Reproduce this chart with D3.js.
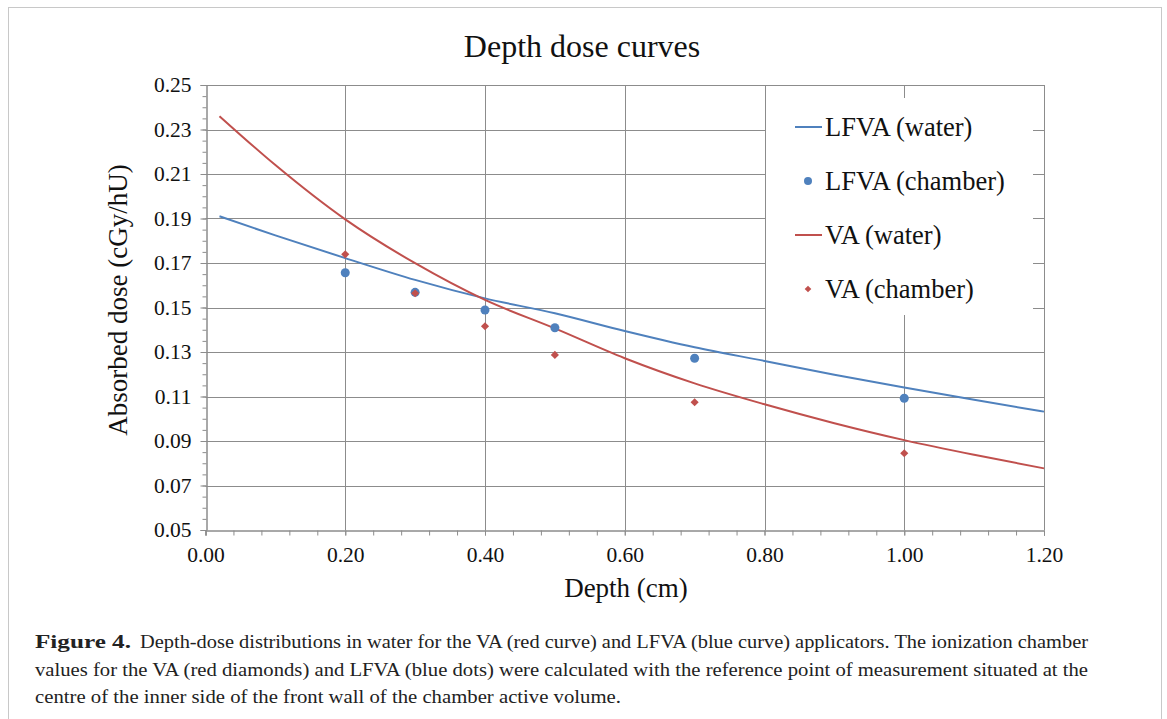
<!DOCTYPE html>
<html>
<head>
<meta charset="utf-8">
<script src="https://cdn.jsdelivr.net/npm/d3@7"></script>
<style>
body { margin: 0; background: #fff; }
svg { display: block; }
</style>
</head>
<body>
<div id="chart"></div>
<script>
// depth (cm) grid for the water curves
const curveDepth = [0.02, 0.1, 0.2, 0.3, 0.4, 0.5, 0.6, 0.7, 0.8, 0.9, 1.0, 1.1, 1.2];
const lfvaWater = [0.191, 0.1824, 0.1722, 0.1624, 0.1541, 0.1474, 0.1394, 0.1321, 0.1260, 0.1198, 0.1140, 0.1085, 0.1032];
const vaWater = [0.236, 0.214, 0.1896, 0.1699, 0.1534, 0.1406, 0.1272, 0.1159, 0.1065, 0.0980, 0.0904, 0.0838, 0.0777];

// chamber measurements
const chamberDepth = [0.2, 0.3, 0.4, 0.5, 0.7, 1.0];
const lfvaChamber = [0.1656, 0.1568, 0.1489, 0.1409, 0.1272, 0.1092];
const vaChamber = [0.1739, 0.1564, 0.1416, 0.1287, 0.1074, 0.0845];

const xTicks = [0, 0.2, 0.4, 0.6, 0.8, 1.0, 1.2];
const yTicks = [0.05, 0.07, 0.09, 0.11, 0.13, 0.15, 0.17, 0.19, 0.21, 0.23, 0.25];

const legendLabels = ["LFVA (water)", "LFVA (chamber)", "VA (water)", "VA (chamber)"];

const captionLines = [
	"Depth-dose distributions in water for the VA (red curve) and LFVA (blue curve) applicators. The ionization chamber",
	"values for the VA (red diamonds) and LFVA (blue dots) were calculated with the reference point of measurement situated at the",
	"centre of the inner side of the front wall of the chamber active volume."
];

const W = 1167, H = 719;
const blue = "#4F81BD", red = "#C0504D", grid = "#8c8c8c";
const serif = "'Liberation Serif', 'Times New Roman', serif";

const svg = d3.select("#chart").append("svg")
	.attr("width", W)
	.attr("height", H);

// outer frame
svg.append("rect")
	.attr("x", 8.5).attr("y", 7.5)
	.attr("width", 1153).attr("height", 740)
	.attr("fill", "none")
	.attr("stroke", "#c8c8c8");

const x = d3.scaleLinear().domain([0, 1.2]).range([205.5, 1044]);
const y = d3.scaleLinear().domain([0.05, 0.25]).range([530, 85]);

//gridlines
svg.append("g").selectAll("line")
	.data(yTicks.slice(1))
	.enter().append("line")
	.attr("x1", x(0)).attr("x2", x(1.2))
	.attr("y1", d => Math.round(y(d)) + 0.5).attr("y2", d => Math.round(y(d)) + 0.5)
	.attr("stroke", grid);

svg.append("g").selectAll("line")
	.data(xTicks.slice(1))
	.enter().append("line")
	.attr("x1", d => Math.round(x(d)) + 0.5).attr("x2", d => Math.round(x(d)) + 0.5)
	.attr("y1", y(0.05)).attr("y2", y(0.25))
	.attr("stroke", grid);

// y axis
const yMinor = d3.range(0.05, 0.2501, 0.005);
svg.append("g")
	.attr("transform", "translate(" + (Math.round(x(0)) + 0.5) + ",0)")
	.call(d3.axisLeft(y).tickValues(yMinor).tickSize(4).tickFormat(""))
	.call(g => g.selectAll("line,path").attr("stroke", grid));

svg.append("g")
	.attr("transform", "translate(" + (Math.round(x(0)) + 0.5) + ",0)")
	.call(d3.axisLeft(y).tickValues(yTicks).tickSize(6).tickPadding(9).tickFormat(d3.format(".2f")))
	.call(g => g.selectAll("line,path").attr("stroke", grid))
	.call(g => g.selectAll("text").attr("font-family", serif).attr("font-size", 21.5).attr("fill", "#111"));

// x axis
const xMinor = d3.range(0, 1.2001, 0.04);
svg.append("g")
	.attr("transform", "translate(0," + (Math.round(y(0.05)) + 0.5) + ")")
	.call(d3.axisBottom(x).tickValues(xMinor).tickSize(5).tickFormat(""))
	.call(g => g.selectAll("line,path").attr("stroke", grid));

svg.append("g")
	.attr("transform", "translate(0," + (Math.round(y(0.05)) + 0.5) + ")")
	.call(d3.axisBottom(x).tickValues(xTicks).tickSize(5).tickPadding(11).tickFormat(d3.format(".2f")))
	.call(g => g.selectAll("line,path").attr("stroke", grid))
	.call(g => g.selectAll("text").attr("font-family", serif).attr("font-size", 21.5).attr("fill", "#111"));

// legend background hides the grid behind it
svg.append("rect")
	.attr("x", 766).attr("y", 98)
	.attr("width", 267).attr("height", 217)
	.attr("fill", "#fff");

// curves
const line = d3.line()
	.x(d => x(d[0]))
	.y(d => y(d[1]))
	.curve(d3.curveMonotoneX);

[[lfvaWater, blue], [vaWater, red]].forEach(([vals, col]) => {
	svg.append("path")
		.datum(curveDepth.map((d, i) => [d, vals[i]]))
		.attr("d", line)
		.attr("fill", "none")
		.attr("stroke", col)
		.attr("stroke-width", 2);
});

// chamber points
svg.append("g").selectAll("circle")
	.data(chamberDepth.map((d, i) => [d, lfvaChamber[i]]))
	.enter().append("circle")
	.attr("cx", d => x(d[0]))
	.attr("cy", d => y(d[1]))
	.attr("r", 4.5)
	.attr("fill", blue);

const diamond = d3.symbol().type(d3.symbolDiamond2).size(42);
svg.append("g").selectAll("path")
	.data(chamberDepth.map((d, i) => [d, vaChamber[i]]))
	.enter().append("path")
	.attr("d", diamond)
	.attr("transform", d => "translate(" + x(d[0]) + "," + y(d[1]) + ")")
	.attr("fill", red);

// legend
const legend = svg.append("g");
const legendY = [127, 181, 235, 289];
legendLabels.forEach((label, i) => {
	const col = i < 2 ? blue : red;
	const ly = legendY[i];
	if (i % 2 === 0) {
		legend.append("line")
			.attr("x1", 795).attr("x2", 822)
			.attr("y1", ly).attr("y2", ly)
			.attr("stroke", col).attr("stroke-width", 2);
	} else if (i === 1) {
		legend.append("circle")
			.attr("cx", 808).attr("cy", ly).attr("r", 4).attr("fill", col);
	} else {
		legend.append("path")
			.attr("d", d3.symbol().type(d3.symbolDiamond2).size(28))
			.attr("transform", "translate(808," + ly + ")")
			.attr("fill", col);
	}
	legend.append("text")
		.attr("x", 825)
		.attr("y", ly)
		.attr("dy", "0.35em")
		.attr("font-family", serif)
		.attr("font-size", 26.5)
		.attr("fill", "#111")
		.text(label);
});

// titles
svg.append("text")
	.attr("x", 582).attr("y", 57)
	.attr("text-anchor", "middle")
	.attr("font-family", serif)
	.attr("font-size", 32)
	.attr("fill", "#111")
	.text("Depth dose curves");

svg.append("text")
	.attr("x", 626).attr("y", 597)
	.attr("text-anchor", "middle")
	.attr("font-family", serif)
	.attr("font-size", 27)
	.attr("fill", "#111")
	.text("Depth (cm)");

svg.append("text")
	.attr("transform", "translate(127,300) rotate(-90)")
	.attr("text-anchor", "middle")
	.attr("font-family", serif)
	.attr("font-size", 27)
	.attr("fill", "#111")
	.text("Absorbed dose (cGy/hU)");

// caption
const cap = svg.append("g")
	.attr("font-family", serif)
	.attr("font-size", 19)
	.attr("fill", "#222");

const capLens = [1053, 1053, 586];
captionLines.forEach((t, i) => {
	const txt = cap.append("text")
		.attr("x", 35)
		.attr("y", 648 + i * 27.5);
	if (i === 0) {
		txt.append("tspan")
			.attr("font-weight", "bold")
			.attr("textLength", 96)
			.attr("lengthAdjust", "spacingAndGlyphs")
			.text("Figure 4.");
		txt.append("tspan")
			.attr("x", 140)
			.attr("textLength", capLens[i] - 105)
			.attr("lengthAdjust", "spacingAndGlyphs")
			.text(t);
	} else {
		txt.attr("textLength", capLens[i])
			.attr("lengthAdjust", "spacingAndGlyphs")
			.text(t);
	}
});
</script>
</body>
</html>
